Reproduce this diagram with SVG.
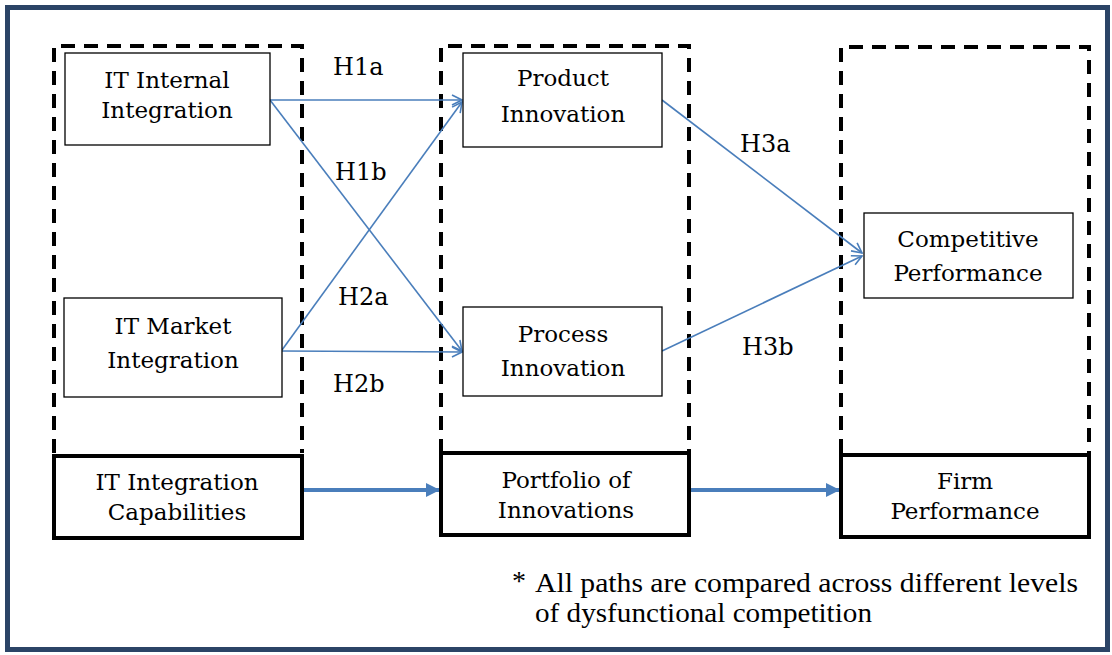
<svg xmlns="http://www.w3.org/2000/svg" width="1112" height="655" viewBox="0 0 1112 655">
  <defs>
    <style>
      .frame { fill: none; stroke: #2b4466; stroke-width: 5; }
      .dash { fill: none; stroke: #000; stroke-width: 4; stroke-dasharray: 14 9; }
      .box { fill: #fff; stroke: #000; stroke-width: 1.3; }
      .bold { fill: #fff; stroke: #000; stroke-width: 4; }
      .lbl { font-family: "DejaVu Serif", "Liberation Serif", serif; font-size: 23px; fill: #000; text-anchor: middle; }
      .hyp { font-family: "DejaVu Serif", "Liberation Serif", serif; font-size: 24px; fill: #000; }
      .note { font-family: "Liberation Serif", serif; font-size: 28px; fill: #000; }
      .path { fill: none; stroke: #4a7ebb; stroke-width: 1.6; marker-end: url(#open); }
      .flow { fill: none; stroke: #4a7ebb; stroke-width: 4; marker-end: url(#solid); }
    </style>
    <marker id="open" viewBox="0 0 12 12" refX="11" refY="6" markerWidth="12" markerHeight="12" markerUnits="userSpaceOnUse" orient="auto">
      <path d="M1,1 L11,6 L1,11" fill="none" stroke="#4a7ebb" stroke-width="1.6"/>
    </marker>
    <marker id="solid" viewBox="0 0 10 10" refX="10" refY="5" markerWidth="14" markerHeight="14" markerUnits="userSpaceOnUse" orient="auto">
      <path d="M0,0 L10,5 L0,10 Z" fill="#4a7ebb"/>
    </marker>
  </defs>

  <rect x="0" y="0" width="1112" height="655" fill="#fff"/>
  <rect class="frame" x="7.5" y="7.5" width="1100" height="642"/>

  <!-- dashed groupings -->
  <g id="groups">
    <path class="dash" d="M54,453 V46 H302 V453"/>
    <path class="dash" d="M441,453 V46 H689 V453"/>
    <path class="dash" d="M841,453 V47 H1089 V453"/>
  </g>

  <!-- connectors -->
  <g id="connectors">
    <line class="path" x1="270" y1="100" x2="462" y2="100"/>
    <line class="path" x1="270" y1="100" x2="462" y2="351"/>
    <line class="path" x1="282" y1="350" x2="462" y2="102"/>
    <line class="path" x1="282" y1="351" x2="462" y2="352"/>
    <line class="path" x1="662" y1="100" x2="862" y2="253"/>
    <line class="path" x1="662" y1="351" x2="862" y2="256"/>
    <line class="flow" x1="303" y1="490" x2="440" y2="490"/>
    <line class="flow" x1="690" y1="490" x2="840" y2="490"/>
  </g>

  <g id="hypotheses">
    <text class="hyp" x="333" y="75">H1a</text>
    <text class="hyp" x="335" y="180">H1b</text>
    <text class="hyp" x="338" y="305">H2a</text>
    <text class="hyp" x="333" y="392">H2b</text>
    <text class="hyp" x="740" y="152">H3a</text>
    <text class="hyp" x="742" y="355">H3b</text>
  </g>

  <g id="it-internal">
    <rect class="box" x="65" y="53" width="205" height="92"/>
    <text class="lbl" x="167" y="88">IT Internal</text>
    <text class="lbl" x="167" y="118">Integration</text>
  </g>
  <g id="it-market">
    <rect class="box" x="64" y="298" width="218" height="99"/>
    <text class="lbl" x="173" y="334">IT Market</text>
    <text class="lbl" x="173" y="368">Integration</text>
  </g>
  <g id="product-innovation">
    <rect class="box" x="463" y="53" width="199" height="94"/>
    <text class="lbl" x="563" y="86">Product</text>
    <text class="lbl" x="563" y="122">Innovation</text>
  </g>
  <g id="process-innovation">
    <rect class="box" x="463" y="307" width="199" height="89"/>
    <text class="lbl" x="563" y="342">Process</text>
    <text class="lbl" x="563" y="376">Innovation</text>
  </g>
  <g id="competitive-performance">
    <rect class="box" x="864" y="213" width="209" height="85"/>
    <text class="lbl" x="968" y="247">Competitive</text>
    <text class="lbl" x="968" y="281">Performance</text>
  </g>

  <g id="it-integration-capabilities">
    <rect class="bold" x="54" y="456" width="248" height="82"/>
    <text class="lbl" x="177" y="490">IT Integration</text>
    <text class="lbl" x="177" y="520">Capabilities</text>
  </g>
  <g id="portfolio-of-innovations">
    <rect class="bold" x="441" y="453" width="248" height="82"/>
    <text class="lbl" x="566" y="488">Portfolio of</text>
    <text class="lbl" x="566" y="518">Innovations</text>
  </g>
  <g id="firm-performance">
    <rect class="bold" x="841" y="455" width="248" height="82"/>
    <text class="lbl" x="965" y="489">Firm</text>
    <text class="lbl" x="965" y="519">Performance</text>
  </g>

  <g id="footnote">
    <text class="note" x="512" y="590" font-size="20">*</text>
    <text class="note" x="535" y="592" textLength="543" lengthAdjust="spacingAndGlyphs">All paths are compared across different levels</text>
    <text class="note" x="535" y="622" textLength="337" lengthAdjust="spacingAndGlyphs">of dysfunctional competition</text>
  </g>
</svg>
